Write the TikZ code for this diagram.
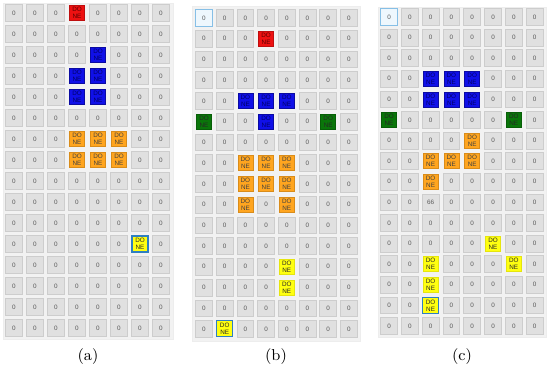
\documentclass[tikz,border=0pt]{standalone}
\usepackage{fontspec}
\setsansfont{Liberation Sans}
\definecolor{PanelGray}{HTML}{F2F2F2}
\definecolor{CellGray}{HTML}{E0E0E0}
\definecolor{CellLine}{HTML}{CDCDCD}
\definecolor{HiFill}{HTML}{EEF7FD}
\definecolor{HiLine}{HTML}{86BFE6}
\definecolor{DoneRed}{HTML}{EE1111}
\definecolor{DoneBlue}{HTML}{1010E8}
\definecolor{DoneOrange}{HTML}{FFA51F}
\definecolor{DoneGreen}{HTML}{0A760A}
\definecolor{DoneYellow}{HTML}{FFFF10}
\definecolor{StartLine}{HTML}{2F7FC0}
\newcommand{\Grid}[5]%
% name, first x, first y, step x, step y
{   \foreach \row in {0,...,15}
    {   \foreach \col in {0,...,7}
        {   \node (#1-\row-\col) at (#2+\col*#4, #3+\row*#5) [cell, #1-\row-\col/.try];
        }
    }
}

\begin{document}
\begin{tikzpicture}
[   x=0.02cm, y=-0.02cm,
    panel/.style={fill=PanelGray, draw=black!7},
    cell/.style={rectangle, fill=CellGray, draw=CellLine, minimum size=0.335cm, inner sep=0,
        font=\sffamily\fontsize{3.6}{4}\selectfont, text=black!65, align=center, node contents={0}},
    done/.style={minimum size=0.3cm, node contents={DO\\NE}},
    red cell/.style={done, fill=DoneRed, draw=DoneRed!80!black, text=red!35!black},
    blue cell/.style={done, fill=DoneBlue, draw=DoneBlue!70!black, text=blue!40!black},
    orange cell/.style={done, fill=DoneOrange, draw=DoneOrange!85!black, text=black!75},
    green cell/.style={done, fill=DoneGreen, draw=DoneGreen!80!black, text=black!85},
    yellow cell/.style={done, fill=DoneYellow, draw=DoneYellow!90!black, text=black!85},
    start cell/.style={done, minimum size=0.32cm, fill=DoneYellow, draw=StartLine, line width=0.6pt, text=black!85},
    light cell/.style={fill=HiFill, draw=HiLine, line width=0.5pt},
    red at/.style={#1/.style={red cell}},
    blue at/.style={#1/.style={blue cell}},
    orange at/.style={#1/.style={orange cell}},
    green at/.style={#1/.style={green cell}},
    yellow at/.style={#1/.style={yellow cell}},
    start at/.style={#1/.style={start cell}},
    light at/.style={#1/.style={light cell}},
    red at/.list={a-0-3, b-1-3},
    blue at/.list={a-2-4, a-3-3, a-3-4, a-4-3, a-4-4,
        b-4-2, b-4-3, b-4-4, b-5-3,
        c-3-2, c-3-3, c-3-4, c-4-2, c-4-3, c-4-4},
    orange at/.list={a-6-3, a-6-4, a-6-5, a-7-3, a-7-4, a-7-5,
        b-7-2, b-7-3, b-7-4, b-8-2, b-8-3, b-8-4, b-9-2, b-9-4,
        c-6-4, c-7-2, c-7-3, c-7-4, c-8-2},
    green at/.list={b-5-0, b-5-6, c-5-0, c-5-6},
    yellow at/.list={b-12-4, b-13-4, c-11-5, c-12-2, c-12-6, c-13-2},
    start at/.list={a-11-6, b-15-1, c-14-2},
    light at/.list={b-0-0, c-0-0},
    c-9-2/.style={node contents={66}},
    caption/.style={font=\fontsize{9}{10}\selectfont}
]
    \useasboundingbox (0,0) rectangle (550,370);
    \draw[panel] (3,3) rectangle (173,339);
    \draw[panel] (192,6) rectangle (360,341);
    \draw[panel] (378,7) rectangle (546,337);

    \Grid{a}{14}{13}{21}{21}
    \Grid{b}{204}{18}{20.7}{20.73}
    \Grid{c}{389}{17}{20.8}{20.6}

    \node[caption] (cap-a) at (88,357) {(a)};
    \node[caption] (cap-b) at (276,357) {(b)};
    \node[caption] (cap-c) at (462,357) {(c)};
\end{tikzpicture}
\end{document}
